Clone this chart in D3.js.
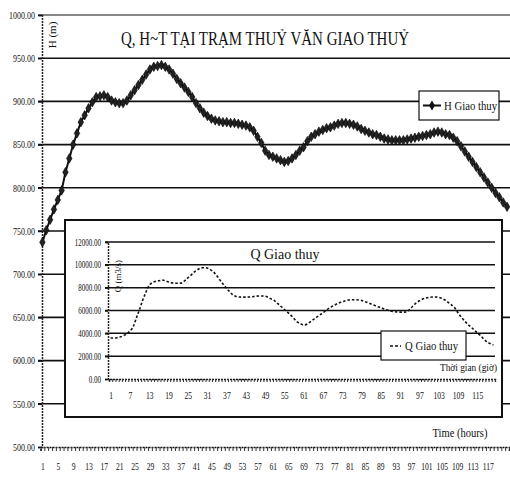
<!DOCTYPE html>
<html><head><meta charset="utf-8">
<script src="https://cdn.jsdelivr.net/npm/d3@7"></script>
<style>
html,body{margin:0;padding:0;background:#fff;}
svg{display:block;}
text{font-family:"Liberation Serif","Times New Roman",serif;fill:#111;}
</style></head>
<body>
<svg id="c" width="510" height="479"></svg>
<script>
// ---------- DATA ----------
const title = "Q, H~T TẠI TRẠM THUỶ VĂN GIAO THUỶ";
const hSeriesName = "H Giao thuy";
const qSeriesName = "Q Giao thuy";
const hAxisTitle = "H (m)";
const qAxisTitle = "Q (m3/s)";
const xTitleOuter = "Time (hours)";
const xTitleInner = "Thời gian (giờ)";
const hTicks = [500, 550, 600, 650, 700, 750, 800, 850, 900, 950, 1000];
const qTicks = [0, 2000, 4000, 6000, 8000, 10000, 12000];
const hLabelHours = [1,5,9,13,17,21,25,29,33,37,41,45,49,53,57,61,65,69,73,77,81,85,89,93,97,101,105,109,113,117];
const qLabelHours = [1,7,13,19,25,31,37,43,49,55,61,67,73,79,85,91,97,103,109,115];
const hValues = [737,751,763,775,786,797,818,834,850,863,876,884,892,899,905,906,907,905,901,899,
  898,898,901,907,913,919,925,931,937,940,941,942,940,937,932,926,921,916,911,905,
  898,892,887,883,880,878,877,876,876,875,875,874,873,872,870,866,859,852,843,838,
  836,834,832,830,831,834,838,843,847,854,859,862,865,867,869,870,872,874,875,875,
  874,873,871,868,866,864,862,861,859,857,856,855,855,855,855,856,857,858,859,860,
  861,862,864,865,864,862,861,858,854,848,842,836,830,824,818,812,806,800,794,789,
  783,778];
const qValues = [3590,3590,3620,3680,3800,3950,4200,4560,5340,6100,6920,7620,8200,8450,8550,8600,8670,8600,8500,8420,
  8400,8380,8400,8600,8850,9100,9370,9580,9720,9750,9720,9580,9370,9050,8670,8300,7970,7650,7360,7230,
  7180,7170,7170,7180,7200,7250,7270,7270,7260,7150,7000,6850,6600,6350,6100,5850,5600,5300,5000,4850,
  4730,4800,4990,5200,5400,5600,5800,6020,6220,6380,6530,6660,6750,6850,6920,6940,6940,6920,6880,6780,
  6680,6560,6450,6340,6250,6130,6040,5960,5900,5870,5860,5860,5870,6100,6400,6660,6850,7000,7100,7150,
  7180,7180,7150,7050,6920,6700,6480,6220,5800,5430,5100,4800,4560,4300,4030,3800,3500,3240,3100,2980];

// ---------- LAYOUT ----------
const svg = d3.select("#c");
const W = 510;
const O = {left:42, top:15, bottom:447, step:3.84};
const nH = hValues.length;
const x1 = d3.scaleLinear().domain([0.5, nH + 0.5]).range([O.left - 1.5, O.left - 1.5 + nH * O.step]);
const y1 = d3.scaleLinear().domain([500, 1000]).range([O.bottom, O.top]);

function condense(sel, f) {
  sel.each(function () {
    const w = this.getComputedTextLength();
    d3.select(this).attr("textLength", w * f).attr("lengthAdjust", "spacingAndGlyphs");
  });
}

// outer gridlines
svg.append("g").selectAll("line").data(hTicks.filter(d => d > 500)).join("line")
  .attr("x1", O.left - 4).attr("x2", W).attr("y1", d => y1(d)).attr("y2", d => y1(d))
  .attr("stroke", "#111").attr("stroke-width", d => d === 1000 ? 1.2 : 1.6);

// outer y axis
const yAx = svg.append("g").attr("transform", `translate(${O.left},0)`)
  .call(d3.axisLeft(y1).tickValues(hTicks).tickFormat(d3.format(".2f")).tickSize(4).tickPadding(3));
yAx.select(".domain").attr("stroke", "#222").attr("stroke-width", 1.5).attr("stroke-dasharray", "2,1");
yAx.selectAll(".tick line").attr("stroke", "#111").attr("stroke-width", 1.5);
yAx.selectAll("text").style("font-size", "10.5px").attr("font-family", "Liberation Serif").call(condense, 0.76);

// outer x axis (category ticks)
const catB = d3.range(0, nH + 1).map(i => i + 0.5);
const xAxT = svg.append("g").attr("transform", `translate(0,${O.bottom})`)
  .call(d3.axisBottom(x1).tickValues(catB).tickSize(4).tickFormat(""));
xAxT.select(".domain").attr("stroke", "#111").attr("stroke-width", 1.5).attr("stroke-dasharray", "2,1");
xAxT.selectAll(".tick line").attr("stroke", "#333").attr("stroke-width", 1);
const xAxL = svg.append("g").attr("transform", `translate(0,${O.bottom})`)
  .call(d3.axisBottom(x1).tickValues(hLabelHours).tickSize(0).tickPadding(16));
xAxL.select(".domain").remove();
xAxL.selectAll("text").style("font-size", "10px").call(condense, 0.76);

// outer H line
const lineH = d3.line().x((d, i) => x1(i + 1)).y(d => y1(d));
svg.append("path").datum(hValues).attr("d", lineH).attr("fill", "none")
  .attr("stroke", "#111").attr("stroke-width", 2);
svg.append("g").selectAll("path").data(hValues).join("path")
  .attr("transform", (d, i) => `translate(${x1(i + 1)},${y1(d)})`)
  .attr("d", d3.symbol(d3.symbolDiamond, 26))
  .attr("fill", "#222").attr("stroke", "#000").attr("stroke-width", 0.6);

// title
svg.append("text").attr("x", 265).attr("y", 45).attr("text-anchor", "middle")
  .attr("textLength", 288).attr("lengthAdjust", "spacingAndGlyphs")
  .style("font-size", "19px").text(title);
svg.append("text").attr("transform", "translate(56,35) rotate(-90)")
  .attr("text-anchor", "middle").style("font-size", "11px").text(hAxisTitle);

// outer legend
const lg = svg.append("g");
lg.append("rect").attr("x", 419).attr("y", 91).attr("width", 80).attr("height", 29)
  .attr("fill", "#fff").attr("stroke", "#111").attr("stroke-width", 1.2);
lg.append("line").attr("x1", 423).attr("x2", 441).attr("y1", 105.5).attr("y2", 105.5)
  .attr("stroke", "#111").attr("stroke-width", 2);
lg.append("path").attr("transform", "translate(432,105.5)").attr("d", d3.symbol(d3.symbolDiamond, 30)).attr("fill", "#111");
lg.append("text").attr("x", 444).attr("y", 109.5).style("font-size", "11.5px")
  .attr("textLength", 53).attr("lengthAdjust", "spacingAndGlyphs").text(hSeriesName);

// outer x title
svg.append("text").attr("x", 460).attr("y", 437).attr("text-anchor", "middle")
  .style("font-size", "11.5px").attr("textLength", 55).attr("lengthAdjust", "spacingAndGlyphs").text(xTitleOuter);

// ---------- INNER CHART ----------
const I = {bx:65, by:220, bw:437, bh:197, left:108, right:495, top:242, bottom:379};
svg.append("rect").attr("x", I.bx).attr("y", I.by).attr("width", I.bw).attr("height", I.bh)
  .attr("fill", "#fff").attr("stroke", "#111").attr("stroke-width", 2);
const nQ = qValues.length;
const x2 = d3.scaleLinear().domain([0.5, nQ + 0.5]).range([I.left + 1, I.right]);
const y2 = d3.scaleLinear().domain([0, 12000]).range([I.bottom, I.top]);

svg.append("g").selectAll("line").data(qTicks.filter(d => d > 0)).join("line")
  .attr("x1", I.left - 3).attr("x2", I.right).attr("y1", d => y2(d)).attr("y2", d => y2(d))
  .attr("stroke", "#111").attr("stroke-width", 1.5);

const y2Ax = svg.append("g").attr("transform", `translate(${I.left},0)`)
  .call(d3.axisLeft(y2).tickValues(qTicks).tickFormat(d3.format(".2f")).tickSize(3).tickPadding(4));
y2Ax.select(".domain").attr("stroke", "#222").attr("stroke-width", 1.5).attr("stroke-dasharray", "2,1");
y2Ax.selectAll(".tick line").attr("stroke", "#111").attr("stroke-width", 1.5);
y2Ax.selectAll("text").style("font-size", "9.5px").call(condense, 0.74);

const catQ = d3.range(0, nQ + 1).map(i => i + 0.5);
const x2T = svg.append("g").attr("transform", `translate(0,${I.bottom})`)
  .call(d3.axisBottom(x2).tickValues(catQ).tickSize(3).tickFormat(""));
x2T.select(".domain").attr("stroke", "#111").attr("stroke-width", 1.5).attr("stroke-dasharray", "2,1");
x2T.selectAll(".tick line").attr("stroke", "#333").attr("stroke-width", 1);
const x2L = svg.append("g").attr("transform", `translate(0,${I.bottom})`)
  .call(d3.axisBottom(x2).tickValues(qLabelHours).tickSize(0).tickPadding(13));
x2L.select(".domain").remove();
x2L.selectAll("text").style("font-size", "10px").call(condense, 0.76);

const lineQ = d3.line().x((d, i) => x2(i + 1)).y(d => y2(d)).curve(d3.curveMonotoneX);
svg.append("path").datum(qValues).attr("d", lineQ).attr("fill", "none")
  .attr("stroke", "#111").attr("stroke-width", 1.6).attr("stroke-dasharray", "2.5,2");

svg.append("text").attr("x", 285).attr("y", 259).attr("text-anchor", "middle")
  .style("font-size", "14px").text("Q  Giao thuy");
svg.append("text").attr("transform", "translate(121,276) rotate(-90)")
  .attr("text-anchor", "middle").style("font-size", "9px").text(qAxisTitle);

const lq = svg.append("g");
lq.append("rect").attr("x", 381).attr("y", 331).attr("width", 85).attr("height", 29)
  .attr("fill", "#fff").attr("stroke", "#111").attr("stroke-width", 1.2);
lq.append("line").attr("x1", 390).attr("x2", 401).attr("y1", 346).attr("y2", 346)
  .attr("stroke", "#111").attr("stroke-width", 1.5).attr("stroke-dasharray", "3,2");
lq.append("text").attr("x", 405).attr("y", 350).style("font-size", "11.5px")
  .attr("textLength", 53).attr("lengthAdjust", "spacingAndGlyphs").text(qSeriesName);

svg.append("text").attr("x", 497).attr("y", 371).attr("text-anchor", "end")
  .style("font-size", "10.5px").attr("textLength", 57).attr("lengthAdjust", "spacingAndGlyphs").text(xTitleInner);
</script>
</body></html>
